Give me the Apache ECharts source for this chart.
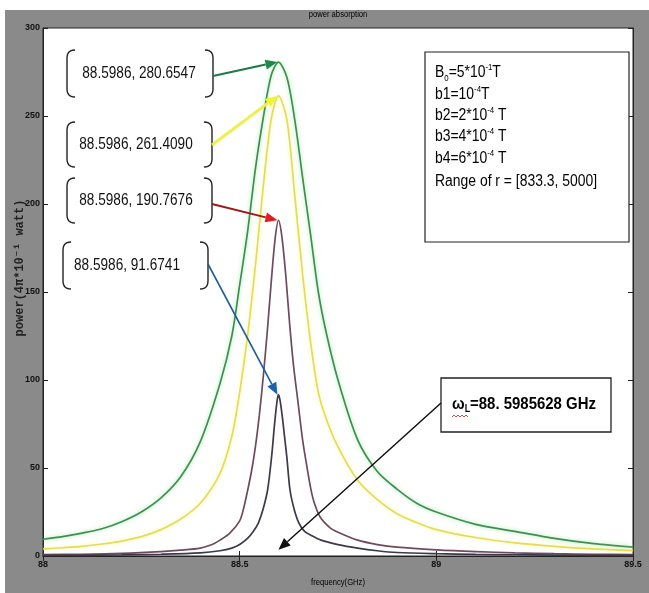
<!DOCTYPE html>
<html><head><meta charset="utf-8">
<script src="https://cdn.jsdelivr.net/npm/echarts@6/dist/echarts.min.js"></script>
<style>html,body{margin:0;padding:0;background:#fff}#c{width:649px;height:593px}</style>
</head><body><div id="c"></div>
<script>
// ---- data ----
const freqB1 = [88, 88.1, 88.2, 88.3, 88.4, 88.45, 88.48, 88.5, 88.52, 88.535, 88.548, 88.56, 88.571, 88.581, 88.589, 88.595, 88.5986, 88.603, 88.609, 88.615, 88.62, 88.628, 88.638, 88.65, 88.665, 88.68, 88.707, 88.75, 88.8, 88.85, 88.9, 89, 89.1, 89.2, 89.3, 89.4, 89.5];
const powB1  = [0.3, 0.4, 0.6, 1, 1.8, 3, 4.5, 6.5, 10, 14, 19, 27, 37.5, 56, 75.6, 88, 91.6741, 88, 78, 66, 56, 37.5, 27, 19, 14, 12, 9, 6.5, 4.5, 3, 2, 1.3, 0.9, 0.7, 0.5, 0.4, 0.3];
const freqB2 = [88, 88.1, 88.2, 88.3, 88.35, 88.4, 88.43, 88.45, 88.475, 88.5, 88.51, 88.52, 88.53, 88.54, 88.55, 88.56, 88.57, 88.58, 88.59, 88.5986, 88.607, 88.617, 88.627, 88.637, 88.648, 88.66, 88.67, 88.681, 88.69, 88.705, 88.73, 88.75, 88.8, 88.85, 88.9, 89, 89.1, 89.2, 89.3, 89.4, 89.5];
const powB2  = [0.8, 1.0, 1.5, 2.5, 3.3, 4.5, 6.5, 9, 13, 20, 27, 37, 48, 62, 80, 102, 127, 155, 180, 190.7676, 182, 160, 132, 108, 88, 66, 52, 38, 30, 22, 16, 13.5, 9, 6.5, 5, 3.5, 2.5, 1.8, 1.3, 1, 0.8];
const freqB3 = [88, 88.05, 88.1, 88.15, 88.2, 88.25, 88.3, 88.35, 88.4, 88.45, 88.48, 88.5, 88.52, 88.54, 88.56, 88.58, 88.5986, 88.62, 88.64, 88.66, 88.68, 88.7, 88.72, 88.75, 88.8, 88.85, 88.9, 88.95, 89, 89.1, 89.2, 89.3, 89.4, 89.5];
const powB3  = [4, 4.7, 5.5, 6.8, 8.5, 11, 15, 21, 30, 47, 68, 93, 125, 165, 210, 248, 261.409, 248, 205, 160, 122, 93, 78, 62, 43, 32, 24, 19, 15, 10.5, 7.5, 5.5, 4, 3];
const freqB4 = [88, 88.05, 88.1, 88.15, 88.2, 88.25, 88.3, 88.35, 88.4, 88.45, 88.48, 88.5, 88.52, 88.54, 88.56, 88.58, 88.5986, 88.62, 88.64, 88.66, 88.68, 88.7, 88.72, 88.75, 88.8, 88.85, 88.9, 88.95, 89, 89.1, 89.2, 89.3, 89.4, 89.5];
const powB4  = [9.5, 11, 13, 15.5, 19.5, 25, 33, 45, 65, 98, 125, 154, 184, 220, 249, 273, 280.6547, 272, 248, 215, 183, 150, 127, 100, 66, 48, 38, 30, 25, 18, 14, 10, 7, 5];
const xTicks = [88, 88.5, 89, 89.5];
const yTicks = [0, 50, 100, 150, 200, 250, 300];
const peakFreq = 88.5986;
const peakLabels = ['88.5986, 280.6547', '88.5986, 261.4090', '88.5986, 190.7676', '88.5986, 91.6741'];
const peakValues = [280.6547, 261.4090, 190.7676, 91.6741];

const pairs = (f, v) => f.map((x, i) => [x, v[i]]);
const FONT = '"Liberation Sans", Arial, sans-serif';
const chart = echarts.init(document.getElementById('c'));

const axisCommon = {
  type: 'value',
  axisLine: { show: true, lineStyle: { color: '#222', width: 1 } },
  axisTick: { show: true, inside: true, length: 5, lineStyle: { color: '#222' } },
  splitLine: { show: false },
  axisLabel: { fontFamily: FONT, fontSize: 9, fontWeight: 'bold', color: '#111' }
};
const xMin = xTicks[0], xMax = xTicks[xTicks.length - 1];
const yMin = yTicks[0], yMax = yTicks[yTicks.length - 1];

function line(name, data, color, glow) {
  return {
    name, type: 'line', data, xAxisIndex: 0, yAxisIndex: 0,
    showSymbol: false, smooth: 0.3,
    lineStyle: { color, width: 1.7, shadowColor: glow || 'transparent', shadowBlur: glow ? 4 : 0 },
    z: 3
  };
}

chart.setOption({
  backgroundColor: '#8a8a8a',
  animation: false,
  grid: { left: 43, right: 16, top: 28, bottom: 37, show: true, backgroundColor: '#fff', borderColor: '#222', borderWidth: 1 },
  xAxis: [
    Object.assign({}, axisCommon, { position: 'bottom', min: xMin, max: xMax, interval: 0.5,
      axisLabel: Object.assign({}, axisCommon.axisLabel, { margin: 4 }) }),
    Object.assign({}, axisCommon, { position: 'top', min: xMin, max: xMax, interval: 0.5, axisLabel: { show: false } })
  ],
  yAxis: [
    Object.assign({}, axisCommon, { position: 'left', min: yMin, max: yMax, interval: 50,
      axisLabel: Object.assign({}, axisCommon.axisLabel, { margin: 3 }) }),
    Object.assign({}, axisCommon, { position: 'right', min: yMin, max: yMax, interval: 50, axisLabel: { show: false } })
  ],
  series: [
    line('b4', pairs(freqB4, powB4), '#3f8f55', 'rgba(140,230,140,0.8)'),
    line('b3', pairs(freqB3, powB3), '#e3dc58', 'rgba(245,245,140,0.8)'),
    line('b2', pairs(freqB2, powB2), '#6e4a5c', null),
    line('b1', pairs(freqB1, powB1), '#3e3848', null)
  ]
});

const P = (f, v) => chart.convertToPixel({ xAxisIndex: 0, yAxisIndex: 0 }, [f, v]);

function arrow(x1, y1, x2, y2, color, w, headColor, L, W) {
  L = L || 11; W = W || 4.5;
  const a = Math.atan2(y2 - y1, x2 - x1);
  const bx = x2 - L * Math.cos(a), by = y2 - L * Math.sin(a);
  const px = -Math.sin(a) * W, py = Math.cos(a) * W;
  return [
    { type: 'line', z: 50, silent: true, shape: { x1, y1, x2: bx, y2: by }, style: { stroke: color, lineWidth: w } },
    { type: 'polygon', z: 51, silent: true, shape: { points: [[x2, y2], [bx + px, by + py], [bx - px, by - py]] }, style: { fill: headColor || color } }
  ];
}
function quadPts(p0, p1, p2, n) {
  const out = [];
  for (let i = 0; i <= n; i++) {
    const t = i / n, u = 1 - t;
    out.push([u * u * p0[0] + 2 * u * t * p1[0] + t * t * p2[0], u * u * p0[1] + 2 * u * t * p1[1] + t * t * p2[1]]);
  }
  return out;
}
function bracket(x, y1, y2, dir) {
  const r = 8;
  const pts = quadPts([x + dir * r, y1], [x, y1], [x, y1 + r], 6)
    .concat(quadPts([x, y2 - r], [x, y2], [x + dir * r, y2], 6));
  return { type: 'polyline', z: 50, silent: true, shape: { points: pts }, style: { stroke: '#222', lineWidth: 1.4, fill: null } };
}
function label(text, cx, cy) {
  return { type: 'text', z: 52, silent: true, x: cx, y: cy, scaleX: 0.85, style: { text, font: `16px ${FONT}`, fill: '#111', align: 'center', verticalAlign: 'middle' } };
}

const g = [];
g.push({ type: 'rect', z: 1, silent: true, shape: { x: 0, y: 0, width: 649, height: 10 }, style: { fill: '#fff' } });
g.push({ type: 'rect', z: 1, silent: true, shape: { x: 0, y: 0, width: 5, height: 593 }, style: { fill: '#fff' } });
g.push({ type: 'text', z: 52, x: 338, y: 15, scaleX: 0.85, style: { text: 'power absorption', font: `9px ${FONT}`, fill: '#000', align: 'center', verticalAlign: 'middle' } });
g.push({ type: 'text', z: 52, x: 338, y: 583, scaleX: 0.85, style: { text: 'frequency(GHz)', font: `9px ${FONT}`, fill: '#000', align: 'center', verticalAlign: 'middle' } });
g.push({ type: 'text', z: 52, x: 20, y: 268, rotation: Math.PI / 2, style: { text: 'power(4π*10⁻¹ watt)', font: 'bold 12px "Liberation Mono", "DejaVu Sans Mono", monospace', fill: '#222', align: 'center', verticalAlign: 'middle' } });

const boxes = [
  { x1: 67, x2: 213, y1: 50, y2: 97, tx: 139, ty: 74, sx: 213, sy: 76, col: '#1d7a45', head: '#1f8a48', w: 2 },
  { x1: 67, x2: 212, y1: 122, y2: 167, tx: 136, ty: 145, sx: 212, sy: 145, col: '#eef04a', head: '#f2f430', w: 3 },
  { x1: 67, x2: 212, y1: 178, y2: 223, tx: 136, ty: 201, sx: 212, sy: 204, col: '#9a1a1a', head: '#e51c1c', w: 2 },
  { x1: 63, x2: 208, y1: 242, y2: 289, tx: 127, ty: 266, sx: 208, sy: 264, col: '#1d5c9a', head: '#1f5fb0', w: 1.6 }
];
boxes.forEach((b, i) => {
  g.push(bracket(b.x1, b.y1, b.y2, 1));
  g.push(bracket(b.x2, b.y1, b.y2, -1));
  g.push(label(peakLabels[i], b.tx, b.ty));
  const t = P(peakFreq, peakValues[i]);
  g.push(...arrow(b.sx, b.sy, t[0] - 1, t[1], b.col, b.w, b.head, 12, 5));
});

g.push({ type: 'rect', z: 50, silent: true, shape: { x: 425, y: 52, width: 204, height: 190 }, style: { fill: '#fff', stroke: '#222', lineWidth: 1.2 } });
const rich = (c) => ({
  t: { fontSize: 16, fontFamily: FONT, color: c, lineHeight: 20 },
  sup: { fontSize: 9, fontFamily: FONT, color: c, verticalAlign: 'top', lineHeight: 20 },
  sub: { fontSize: 9, fontFamily: FONT, color: c, verticalAlign: 'bottom', lineHeight: 20 }
});
const legendLines = [
  ['{t|B}{sub|0}{t|=5*10}{sup|-1}{t|T}', '#111'],
  ['{t|b1=10}{sup|-4}{t|T}', '#4a78ad'],
  ['{t|b2=2*10}{sup|-4}{t| T}', '#b01c2c'],
  ['{t|b3=4*10}{sup|-4}{t| T}', '#f0c21c'],
  ['{t|b4=6*10}{sup|-4}{t| T}', '#1f9650'],
  ['{t|Range of r = [833.3, 5000]}', '#111']
];
const legendY = [73, 95, 116, 137, 159, 182];
legendLines.forEach((l, i) => {
  g.push({ type: 'text', z: 52, silent: true, x: 435, y: legendY[i], scaleX: 0.87, style: { text: l[0], rich: rich(l[1]), align: 'left', verticalAlign: 'middle' } });
});

g.push({ type: 'rect', z: 50, silent: true, shape: { x: 441, y: 378, width: 170, height: 54 }, style: { fill: '#fff', stroke: '#222', lineWidth: 1.3 } });
g.push({ type: 'text', z: 52, silent: true, x: 452, y: 404, scaleX: 0.88, style: {
  text: '{b|ω}{s|L}{b|=88. 5985628 GHz}', align: 'left', verticalAlign: 'middle',
  rich: { b: { fontSize: 17, fontWeight: 'bold', fontFamily: FONT, color: '#111', lineHeight: 20 },
          s: { fontSize: 10, fontWeight: 'bold', fontFamily: FONT, color: '#111', verticalAlign: 'bottom', lineHeight: 20 } } } });
g.push({ type: 'polyline', z: 53, silent: true, shape: { points: [[452, 417], [454, 415], [456, 417], [458, 415], [460, 417], [462, 415], [464, 417], [466, 415], [468, 417]] }, style: { stroke: '#d02020', lineWidth: 0.8, fill: null } });
const tL = P(peakFreq, 3.5);
g.push(...arrow(441, 403, tL[0], tL[1], '#111', 1.5, '#111', 12, 5));

chart.setOption({ graphic: { elements: g } });
</script></body></html>
